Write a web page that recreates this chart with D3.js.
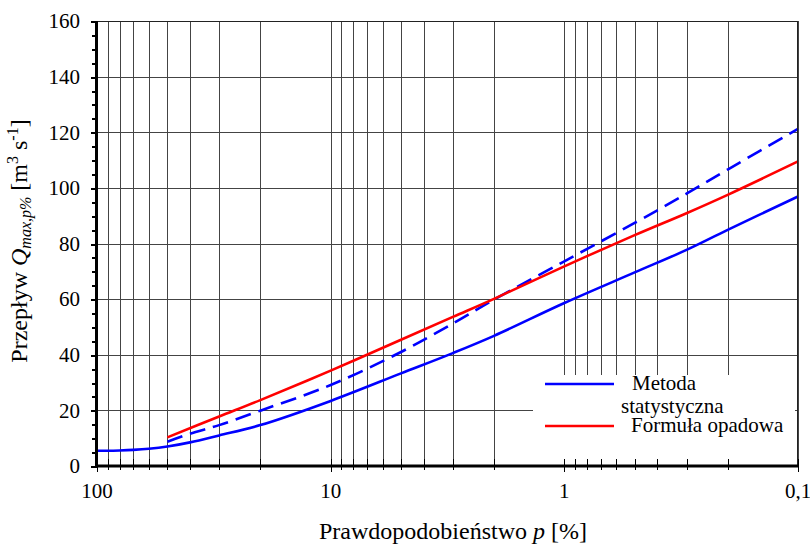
<!DOCTYPE html>
<html>
<head>
<meta charset="utf-8">
<script src="https://cdn.jsdelivr.net/npm/d3@7/dist/d3.min.js"></script>
<style>
  html, body { margin: 0; padding: 0; background: #fff; }
  svg { display: block; }
  svg text { font-family: 'Liberation Serif', 'DejaVu Serif', serif; }
</style>
</head>
<body>
<svg id="chart" width="810" height="545" font-family="Liberation Serif, DejaVu Serif, serif"></svg>
<script>
// Exceedance probability p [%] on a reversed log axis
const pMajor = [100, 10, 1, 0.1];
const pMajorLabels = ["100", "10", "1", "0,1"];
const pMinor = [90, 80, 70, 60, 50, 40, 30, 20,
                9, 8, 7, 6, 5, 4, 3, 2,
                0.9, 0.8, 0.7, 0.6, 0.5, 0.4, 0.3, 0.2];
const qMajor = [0, 20, 40, 60, 80, 100, 120, 140, 160];
const qMinor = [5, 10, 15, 25, 30, 35, 45, 50, 55, 65, 70, 75, 85, 90, 95,
                105, 110, 115, 125, 130, 135, 145, 150, 155];

// Metoda statystyczna (solid) and its upper bound (dashed)
const pStat = [100, 90, 80, 70, 60, 50, 40, 30, 20, 10, 5, 3, 2, 1, 0.5, 0.3, 0.2, 0.1];
const qStat = [5.5, 5.5, 5.6, 5.8, 6.2, 7.0, 8.5, 11.0, 14.7, 23.4, 33.3, 40.6, 46.8, 58.6, 69.6, 77.7, 84.9, 96.9];
const pStatUpper = [50, 40, 30, 20, 10, 5, 3, 2, 1, 0.5, 0.3, 0.2, 0.1];
const qStatUpper = [8.7, 11.6, 14.7, 19.9, 29.1, 41.0, 51.2, 59.8, 73.6, 87.4, 97.9, 106.6, 121.2];

// Formuła opadowa
const pRain = [50, 30, 20, 10, 5, 3, 2, 1, 0.5, 0.3, 0.2, 0.1];
const qRain = [10.3, 17.8, 23.7, 34.3, 45.4, 53.6, 60.1, 71.8, 83.0, 90.9, 97.5, 109.5];

const legendItems = [
  { label: ["Metoda", "statystyczna"], color: "#0000ff" },
  { label: ["Formuła opadowa"], color: "#ff0000" }
];

const svg = d3.select("#chart");
const plotLeft = 97, plotRight = 798, plotTop = 21, plotBottom = 466;

const x = d3.scaleLog().domain([100, 0.1]).range([plotLeft, plotRight]);
const y = d3.scaleLinear().domain([0, 160]).range([plotBottom, plotTop]);

const gridColor = "#444";

// grid
const grid = svg.append("g").attr("shape-rendering", "crispEdges");
grid.selectAll("line.v").data(pMajor.concat(pMinor)).join("line")
  .attr("x1", d => Math.round(x(d)) + 0.5).attr("x2", d => Math.round(x(d)) + 0.5)
  .attr("y1", plotTop).attr("y2", plotBottom)
  .attr("stroke", gridColor).attr("stroke-width", 1);
grid.selectAll("line.h").data(qMajor).join("line")
  .attr("x1", plotLeft).attr("x2", plotRight)
  .attr("y1", d => Math.round(y(d)) + 0.5).attr("y2", d => Math.round(y(d)) + 0.5)
  .attr("stroke", gridColor).attr("stroke-width", 1);

// curves
const line = d3.line()
  .x(d => x(d[0])).y(d => y(d[1]))
  .curve(d3.curveCatmullRom.alpha(0.5));

const series = [
  { p: pStat, q: qStat, color: "#0000ff", dash: null },
  { p: pStatUpper, q: qStatUpper, color: "#0000ff", dash: "16,8" },
  { p: pRain, q: qRain, color: "#ff0000", dash: null }
];
series.forEach(s => {
  svg.append("path")
    .datum(d3.zip(s.p, s.q))
    .attr("d", line)
    .attr("fill", "none")
    .attr("stroke", s.color)
    .attr("stroke-width", 2.6)
    .attr("stroke-dasharray", s.dash);
});

// legend
const lg = svg.append("g");
lg.append("rect")
  .attr("x", 533).attr("y", 375).attr("width", 262).attr("height", 84)
  .attr("fill", "#fff");
const legendRows = [384, 426];
legendItems.forEach((item, i) => {
  const ly = legendRows[i];
  lg.append("line")
    .attr("x1", 545).attr("x2", 614).attr("y1", ly).attr("y2", ly)
    .attr("stroke", item.color).attr("stroke-width", 2.6);
  if (item.label.length === 2) {
    lg.append("text").attr("x", 632).attr("y", ly + 6)
      .attr("font-size", 21).text(item.label[0]);
    lg.append("text").attr("x", 621).attr("y", ly + 29)
      .attr("font-size", 21).text(item.label[1]);
  } else {
    lg.append("text").attr("x", 631).attr("y", ly + 6)
      .attr("font-size", 21).text(item.label[0]);
  }
});

// x-axis ticks crossing the axis
const ticks = svg.append("g").attr("shape-rendering", "crispEdges");
ticks.selectAll("line.xt").data(pMajor.concat(pMinor)).join("line")
  .attr("x1", d => Math.round(x(d)) + 0.5).attr("x2", d => Math.round(x(d)) + 0.5)
  .attr("y1", plotBottom - 7).attr("y2", d => plotBottom + (pMajor.includes(d) ? 6 : 4))
  .attr("stroke", "#000").attr("stroke-width", 1.5);

// y-axis ticks
ticks.selectAll("line.ytM").data(qMajor).join("line")
  .attr("x1", plotLeft - 6).attr("x2", plotLeft)
  .attr("y1", d => Math.round(y(d)) + 0.5).attr("y2", d => Math.round(y(d)) + 0.5)
  .attr("stroke", "#000").attr("stroke-width", 2);
ticks.selectAll("line.ytm").data(qMinor).join("line")
  .attr("x1", plotLeft - 5).attr("x2", plotLeft)
  .attr("y1", d => Math.round(y(d)) + 0.5).attr("y2", d => Math.round(y(d)) + 0.5)
  .attr("stroke", "#000").attr("stroke-width", 2);

// frame
svg.append("rect")
  .attr("x", plotLeft).attr("y", plotTop + 0.5)
  .attr("width", plotRight - plotLeft - 0.5).attr("height", plotBottom - plotTop)
  .attr("fill", "none").attr("stroke", "#222").attr("stroke-width", 1)
  .attr("shape-rendering", "crispEdges");
svg.append("line").attr("x1", plotLeft - 0.5).attr("x2", plotLeft - 0.5)
  .attr("y1", plotTop).attr("y2", plotBottom + 1)
  .attr("stroke", "#000").attr("stroke-width", 3);
svg.append("line").attr("x1", plotLeft - 2).attr("x2", plotRight + 1)
  .attr("y1", plotBottom).attr("y2", plotBottom)
  .attr("stroke", "#000").attr("stroke-width", 3);

// tick labels
svg.append("g").selectAll("text").data(qMajor).join("text")
  .attr("x", 80).attr("y", d => y(d)).attr("dy", "0.35em")
  .attr("text-anchor", "end").attr("font-size", 21)
  .text(d => d);
svg.append("g").selectAll("text").data(pMajor).join("text")
  .attr("x", d => x(d)).attr("y", 498)
  .attr("text-anchor", "middle").attr("font-size", 21)
  .text((d, i) => pMajorLabels[i]);

// axis titles
const xt = svg.append("text").attr("x", 453).attr("y", 539)
  .attr("text-anchor", "middle").attr("font-size", 24);
xt.append("tspan").text("Prawdopodobieństwo ");
xt.append("tspan").attr("font-style", "italic").text("p");
xt.append("tspan").text(" [%]");

const yt = svg.append("text")
  .attr("transform", "translate(27,241) rotate(-90)")
  .attr("text-anchor", "middle").attr("font-size", 24);
yt.append("tspan").text("Przepływ ");
yt.append("tspan").attr("font-style", "italic").text("Q");
yt.append("tspan").attr("font-style", "italic").attr("font-size", 16).attr("dy", 4).text("max,p%");
yt.append("tspan").attr("dy", -4).text(" [m");
yt.append("tspan").attr("font-size", 16).attr("dy", -9).text("3");
yt.append("tspan").attr("dy", 9).text(" s");
yt.append("tspan").attr("font-size", 16).attr("dy", -9).text("-1");
yt.append("tspan").attr("dy", 9).text("]");
</script>
</body>
</html>
